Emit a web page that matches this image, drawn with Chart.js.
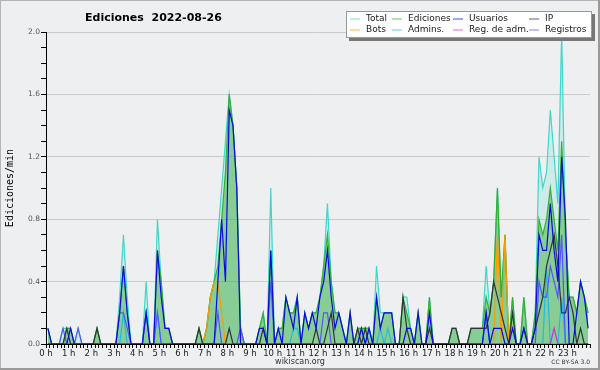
<!DOCTYPE html>
<html>
<head>
<meta charset="utf-8">
<script src="https://cdn.jsdelivr.net/npm/chart.js@4"></script>
<style>
  html, body { margin: 0; padding: 0; background: #eeeff1; }
  #wrap { width: 600px; height: 370px; }
</style>
</head>
<body>
<div id="wrap"><canvas id="chart" width="600" height="370"></canvas></div>
<script>
// 10-minute slots, 6 per hour, values in edits/min
const title = 'Ediciones  2022-08-26';
const hourLabels = Array.from({ length: 24 }, (_, h) => h + ' h');
const yTicks = ['0.0', '0.4', '0.8', '1.2', '1.6', '2.0'];

const total = [
  .1,0,0,0,.1,.1,  .1,0,.1,0,0,0,  0,.1,0,0,0,0,  0,.3,.7,.3,0,0,
  0,0,.4,0,0,.8,  .4,.1,.1,0,0,0,  0,0,0,0,.1,0,  .1,.3,.4,.7,1.0,1.3,
  1.6,1.4,1.0,.1,0,0,  0,0,.1,.2,0,1.0,  0,.1,.1,.3,.2,.2,  .3,0,.2,.1,.2,.2,
  .3,.5,.9,.4,.2,.2,  .1,0,.2,0,.1,.1,  .1,.1,0,.5,.2,.2,  .2,.2,0,0,.3,.3,
  .1,0,.2,0,0,.3,  0,0,0,0,0,.1,  .1,0,0,0,.1,.1,  .1,.1,.5,.2,.4,1.0,
  .3,.7,0,.3,0,0,  .3,0,0,.2,1.2,1.0,  1.1,1.5,1.2,.9,2.0,.7,  .3,.3,.2,.4,.3,.2
];
const ediciones = [
  .1,0,0,0,0,.1,  .1,0,0,0,0,0,  0,.1,0,0,0,0,  0,.2,.5,.2,0,0,
  0,0,.2,0,0,.6,  .4,.1,.1,0,0,0,  0,0,0,0,.1,0,  .1,.3,.4,.5,.8,1.1,
  1.6,1.4,1.0,.1,0,0,  0,0,.1,.2,0,.6,  0,.1,.1,.3,.2,.2,  .3,0,.2,.1,.2,.2,
  .3,.5,.7,.4,.2,.2,  .1,0,.2,0,.1,.1,  .1,.1,0,.3,.1,.2,  .2,.2,0,0,.3,.2,
  .1,0,.2,0,0,.3,  0,0,0,0,0,.1,  .1,0,0,0,.1,.1,  .1,.1,.3,.2,.4,1.0,
  .3,.7,0,.3,0,0,  .3,0,0,.2,.8,.7,  .8,1.0,.8,.6,1.3,.7,  .3,.3,.2,.4,.3,.2
];
const usuarios = [
  .1,0,0,0,0,0,  .1,0,0,0,0,0,  0,0,0,0,0,0,  0,.2,.5,.2,0,0,
  0,0,.2,0,0,.6,  .3,.1,.1,0,0,0,  0,0,0,0,0,0,  0,0,0,.4,.8,.4,
  1.5,1.4,1.0,0,0,0,  0,0,.1,.1,0,.6,  0,.1,0,.3,.2,.1,  .3,0,.2,.1,.2,.1,
  .3,.4,.6,.3,.1,.2,  .1,0,.2,0,0,.1,  0,.1,0,.3,.1,.2,  .2,.2,0,0,0,.1,
  .1,0,.2,0,0,.2,  0,0,0,0,0,0,  0,0,0,0,0,0,  0,0,.2,0,.1,.1,
  .1,0,0,.1,0,0,  .1,0,0,.1,.7,.6,  .6,.9,.6,.4,1.2,.8,  0,0,.2,.4,.3,.1
];
const ip = [
  0,0,0,0,0,.1,  0,0,0,0,0,0,  0,.1,0,0,0,0,  0,0,0,0,0,0,
  0,0,0,0,0,0,  0,0,0,0,0,0,  0,0,0,0,.1,0,  0,0,0,0,0,0,
  .1,0,0,0,0,0,  0,0,0,.1,0,0,  0,0,0,0,0,0,  0,0,0,0,0,.1,
  0,0,.1,.2,0,0,  0,0,0,0,.1,0,  .1,0,0,0,0,0,  0,0,0,0,.3,.1,
  0,0,0,0,0,.1,  0,0,0,0,0,.1,  .1,0,0,0,.1,.1,  .1,.1,.1,.2,.4,.3,
  .2,.1,0,.2,0,0,  .1,0,0,.1,.2,.3,  .5,.6,.7,.5,.2,.2,  .3,.2,0,.1,0,0
];
const bots = [
  0,0,0,0,0,0,  0,0,0,0,0,0,  0,0,0,0,0,0,  0,0,0,0,0,0,
  0,0,0,0,0,0,  0,0,0,0,0,0,  0,0,0,0,0,0,  .1,.3,.4,.4,.2,0,
  0,0,0,0,0,0,  0,0,0,0,0,0,  0,0,0,0,0,0,  0,0,0,0,0,0,
  0,0,0,0,0,0,  0,0,0,0,0,0,  0,0,0,0,0,0,  0,0,0,0,0,0,
  0,0,0,0,0,0,  0,0,0,0,0,0,  0,0,0,0,0,0,  0,0,0,0,0,.7,
  0,.7,0,0,0,0,  0,0,0,0,0,0,  0,0,0,0,0,0,  0,0,0,0,0,0
];
const admins = [
  0,0,0,0,0,0,  0,0,0,0,0,0,  0,0,0,0,0,0,  0,0,.2,0,0,0,
  0,0,0,0,0,.2,  0,0,0,0,0,0,  0,0,0,0,0,0,  0,0,0,0,0,0,
  0,0,0,0,0,0,  0,0,0,0,0,0,  0,0,0,0,0,.1,  .1,0,0,0,0,0,
  0,0,0,0,0,0,  0,0,0,0,0,.1,  0,.1,0,0,.1,0,  .1,0,0,0,0,0,
  0,0,0,0,0,0,  0,0,0,0,0,0,  0,0,0,0,0,0,  0,0,.2,0,0,0,
  0,0,0,0,0,0,  0,0,0,0,0,0,  .5,0,0,0,.3,0,  0,0,0,0,0,0
];
const regAdm = [
  0,0,0,0,0,0,  0,0,0,0,0,0,  0,0,0,0,0,0,  0,0,0,0,0,0,
  0,0,0,0,0,0,  0,0,0,0,0,0,  0,0,0,0,0,0,  0,0,0,0,0,0,
  0,0,0,0,0,0,  0,0,0,0,0,0,  0,0,0,0,0,0,  0,0,0,0,0,0,
  0,0,0,0,0,0,  0,0,0,0,0,0,  0,0,0,0,0,0,  0,0,0,0,0,0,
  0,0,0,0,0,0,  0,0,0,0,0,0,  0,0,0,0,0,0,  0,0,0,0,0,0,
  0,0,0,0,0,0,  0,0,0,0,0,0,  0,0,.1,0,0,0,  0,0,0,0,0,0
];
const registros = [
  0,0,0,0,.1,0,  0,0,.1,0,0,0,  0,0,0,0,0,0,  0,.2,.2,.1,0,0,
  0,0,.2,0,0,.2,  0,0,0,0,0,0,  0,0,0,0,0,0,  0,0,0,.2,0,0,
  0,0,0,.1,0,0,  0,0,0,0,0,.4,  0,0,0,0,0,0,  0,0,0,0,0,0,
  0,.2,.2,0,0,0,  0,0,0,0,0,0,  0,0,0,0,0,0,  0,0,0,0,0,0,
  0,0,0,0,0,0,  0,0,0,0,0,0,  0,0,0,0,0,0,  0,0,.2,0,0,0,
  0,0,0,0,0,0,  0,0,0,0,.4,.3,  .3,.5,.4,.3,.7,0,  0,0,0,0,0,0
];

// each value sits in the middle of its 10 minute slot
const pts = vals => vals.map((v, k) => ({ x: k + 0.5, y: v }));

function line(label, vals, color, order, fill) {
  return {
    label: label,
    data: pts(vals),
    borderColor: color,
    backgroundColor: fill || 'transparent',
    fill: fill ? 'origin' : false,
    borderWidth: 1.2,
    pointRadius: 0,
    tension: 0,
    order: order
  };
}

const datasets = [
  line('Total', total, '#3fd8c8', 9, 'rgba(64,214,200,0.18)'),
  line('Ediciones', ediciones, '#33b033', 8, 'rgba(51,170,51,0.46)'),
  line('Bots', bots, '#ff9900', 7),
  line('Admins.', admins, '#22bbdd', 6),
  line('Registros', registros, '#5555ff', 5),
  line('Reg. de adm.', regAdm, '#cc33cc', 4),
  line('IP', ip, '#333333', 3),
  line('Usuarios', usuarios, '#0a0ae0', 2)
];

const legendGrid = [
  ['Total', 'Ediciones', 'Usuarios', 'IP'],
  ['Bots', 'Admins.', 'Reg. de adm.', 'Registros']
];

const decor = {
  id: 'decor',
  beforeDraw(chart) {
    const c = chart.ctx;
    c.save();
    c.fillStyle = '#eeeff1';
    c.fillRect(0, 0, chart.width, chart.height);
    c.restore();
  },
  afterDraw(chart) {
    const c = chart.ctx;
    c.save();
    // title
    c.fillStyle = '#000';
    c.font = 'bold 11px "DejaVu Sans"';
    c.textBaseline = 'alphabetic';
    c.textAlign = 'left';
    c.fillText(title, 85, 21);

    // legend box with shadow
    c.fillStyle = '#777';
    c.fillRect(349, 14, 246, 27);
    c.fillStyle = '#fff';
    c.fillRect(346, 11, 246, 27);
    c.strokeStyle = '#999';
    c.lineWidth = 1;
    c.strokeRect(346.5, 11.5, 245, 26);

    const lineX = [350, 392, 453, 529];
    const textX = [366, 408, 469, 545];
    const rowY = [18.5, 29.5];
    c.font = '9px "DejaVu Sans"';
    c.textBaseline = 'middle';
    legendGrid.forEach((row, r) => {
      row.forEach((name, col) => {
        const ds = datasets.find(d => d.label === name);
        c.strokeStyle = ds.borderColor;
        c.globalAlpha = 0.75;
        c.beginPath();
        c.moveTo(lineX[col], rowY[r] + 0.5);
        c.lineTo(lineX[col] + 10, rowY[r] + 0.5);
        c.stroke();
        c.globalAlpha = 1;
        c.fillStyle = '#222';
        c.fillText(name, textX[col], rowY[r] + 0.5);
      });
    });

    // footer
    c.textBaseline = 'alphabetic';
    c.fillStyle = '#333';
    c.font = '8px "DejaVu Sans"';
    c.textAlign = 'center';
    c.fillText('wikiscan.org', 300, 364);
    c.font = '6px "DejaVu Sans"';
    c.textAlign = 'right';
    c.fillText('CC BY-SA 3.0', 590, 364);

    // frame: thin light top/left, heavier bottom/right
    c.fillStyle = '#b4b4b4';
    c.fillRect(0, 0, 600, 1);
    c.fillRect(0, 0, 1, 370);
    c.fillStyle = '#9a9a9a';
    c.fillRect(598, 0, 2, 370);
    c.fillRect(0, 368, 600, 2);
    c.restore();
  }
};

const tenths = v => Math.round(v * 10);

new Chart(document.getElementById('chart'), {
  type: 'line',
  data: { datasets: datasets },
  plugins: [decor],
  options: {
    responsive: false,
    animation: false,
    events: [],
    layout: { padding: { top: 32, right: 10, left: 0, bottom: 0 } },
    plugins: { legend: { display: false }, tooltip: { enabled: false } },
    scales: {
      x: {
        type: 'linear',
        min: 0,
        max: 144,
        afterFit: s => { s.height = 26; },
        border: { color: '#000', width: 1 },
        grid: { drawOnChartArea: false, tickColor: '#000', tickLength: 4 },
        ticks: {
          stepSize: 1,
          autoSkip: false,
          maxRotation: 0,
          padding: 1,
          color: '#222',
          font: { family: 'DejaVu Sans', size: 8.5 },
          callback: v => (v % 6 === 0 && v < 144) ? hourLabels[v / 6] : ''
        }
      },
      y: {
        min: 0,
        max: 2,
        afterFit: s => { s.width = 46; },
        border: { color: '#000', width: 1 },
        grid: {
          color: ctx => (ctx.tick && tenths(ctx.tick.value) % 4 === 0 && ctx.tick.value > 0) ? '#cacaca' : 'rgba(0,0,0,0)',
          tickColor: '#000',
          tickLength: 5
        },
        title: {
          display: true,
          text: 'Ediciones/min',
          color: '#000',
          padding: { top: 4, bottom: 0 },
          font: { family: 'DejaVu Sans Mono', size: 10 }
        },
        ticks: {
          stepSize: 0.1,
          autoSkip: false,
          padding: 1,
          color: '#555',
          font: { family: 'DejaVu Sans', size: 7.5 },
          callback: v => tenths(v) % 4 === 0 ? yTicks[tenths(v) / 4] : ''
        }
      }
    }
  }
});
</script>
</body>
</html>
